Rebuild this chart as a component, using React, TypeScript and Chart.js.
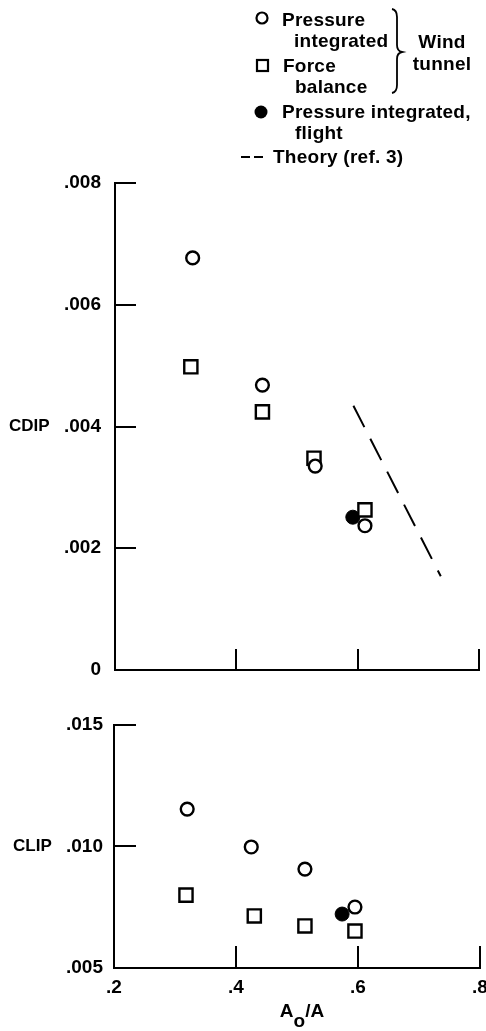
import React, { useEffect, useRef } from "react";
import { Chart, registerables } from "chart.js";

Chart.register(...registerables);

// ---------- data ----------
const xTickValues = [0.2, 0.4, 0.6, 0.8];
const xTickMarkValues = [0.4, 0.6, 0.8];

const cdipTickValues = [0, 0.002, 0.004, 0.006, 0.008];
const cdipTickMarkValues = [0.002, 0.004, 0.006, 0.008];
const clipTickValues = [0.005, 0.01, 0.015];
const clipTickMarkValues = [0.01, 0.015];

// CDIP (upper panel)
const cdipPressureX = [0.328, 0.443, 0.53, 0.612];
const cdipPressureY = [0.00677, 0.00468, 0.00335, 0.00237];
const cdipForceX = [0.325, 0.443, 0.528, 0.612];
const cdipForceY = [0.00498, 0.00424, 0.00348, 0.00263];
const cdipFlightX = [0.592];
const cdipFlightY = [0.00251];
const theoryX = [0.593, 0.737];
const theoryY = [0.00434, 0.00154];

// CLIP (lower panel)
const clipPressureX = [0.32, 0.425, 0.513, 0.595];
const clipPressureY = [0.01154, 0.00998, 0.00907, 0.00751];
const clipForceX = [0.318, 0.43, 0.513, 0.595];
const clipForceY = [0.008, 0.00714, 0.00673, 0.00652];
const clipFlightX = [0.574];
const clipFlightY = [0.00722];

// ---------- helpers ----------
const FONT_FAMILY = "'Liberation Sans', Arial, Helvetica, sans-serif";
const pts = (xs: number[], ys: number[]) => xs.map((x, i) => ({ x, y: ys[i] }));
const fmt3 = (v: number) => (v === 0 ? "0" : v.toFixed(3).replace(/^0/, ""));
const fmt1 = (v: number) => v.toFixed(1).replace(/^0/, "");

function markerSets(pX, pY, fX, fY, flX, flY) {
  return [
    {
      label: "Pressure integrated (wind tunnel)",
      data: pts(pX, pY),
      showLine: false,
      pointStyle: "circle",
      pointRadius: 6.4,
      pointBorderWidth: 2.4,
      pointBorderColor: "#000",
      pointBackgroundColor: "#fff",
    },
    {
      label: "Force balance (wind tunnel)",
      data: pts(fX, fY),
      showLine: false,
      pointStyle: "rect",
      pointRadius: 9.3,
      pointBorderWidth: 2.4,
      pointBorderColor: "#000",
      pointBackgroundColor: "#fff",
    },
    {
      label: "Pressure integrated, flight",
      data: pts(flX, flY),
      showLine: false,
      pointStyle: "circle",
      pointRadius: 7,
      pointBorderWidth: 1,
      pointBorderColor: "#000",
      pointBackgroundColor: "#000",
    },
  ];
}

const tickMarks = (xMarks: number[], yMarks: number[], len: number) => ({
  id: "tickMarks",
  afterDraw(chart: any) {
    const { ctx, chartArea, scales } = chart;
    ctx.save();
    ctx.strokeStyle = "#000";
    ctx.lineWidth = 2;
    ctx.beginPath();
    for (const v of yMarks) {
      const y = Math.round(scales.y.getPixelForValue(v));
      ctx.moveTo(chartArea.left, y);
      ctx.lineTo(chartArea.left + len, y);
    }
    for (const v of xMarks) {
      const x = Math.round(scales.x.getPixelForValue(v));
      ctx.moveTo(x, chartArea.bottom);
      ctx.lineTo(x, chartArea.bottom - len);
    }
    ctx.stroke();
    ctx.restore();
  },
});

const sideTitle = (text: string, value: number, x: number) => ({
  id: "sideTitle",
  afterDraw(chart: any) {
    const { ctx, scales } = chart;
    ctx.save();
    ctx.fillStyle = "#000";
    ctx.font = `bold 17px ${FONT_FAMILY}`;
    ctx.textAlign = "left";
    ctx.textBaseline = "middle";
    ctx.fillText(text, x, scales.y.getPixelForValue(value));
    ctx.restore();
  },
});

const legendPlugin = {
  id: "customLegend",
  afterDraw(chart: any) {
    const ctx = chart.ctx;
    ctx.save();
    ctx.fillStyle = "#000";
    ctx.strokeStyle = "#000";
    ctx.font = `bold 19px ${FONT_FAMILY}`;
    try {
      (ctx as any).letterSpacing = "0.25px";
    } catch (e) {}
    ctx.textAlign = "left";
    ctx.textBaseline = "alphabetic";
    // open circle
    ctx.lineWidth = 2.2;
    ctx.beginPath();
    ctx.arc(262, 18, 5.5, 0, Math.PI * 2);
    ctx.stroke();
    ctx.fillText("Pressure", 282, 26);
    ctx.fillText("integrated", 294, 47);
    // square
    ctx.strokeRect(257, 60, 11, 11);
    ctx.fillText("Force", 283, 72);
    ctx.fillText("balance", 295, 93);
    // filled circle
    ctx.beginPath();
    ctx.arc(261, 112, 6.5, 0, Math.PI * 2);
    ctx.fill();
    ctx.fillText("Pressure integrated,", 282, 118);
    ctx.fillText("flight", 295, 139);
    // dashed theory
    ctx.lineWidth = 2;
    ctx.setLineDash([9, 4]);
    ctx.beginPath();
    ctx.moveTo(241, 157);
    ctx.lineTo(267, 157);
    ctx.stroke();
    ctx.setLineDash([]);
    ctx.fillText("Theory (ref. 3)", 273, 163);
    // brace
    ctx.lineWidth = 1.8;
    ctx.beginPath();
    ctx.moveTo(392, 9);
    ctx.quadraticCurveTo(397, 10, 397, 17);
    ctx.lineTo(397, 45);
    ctx.quadraticCurveTo(397, 51, 402, 52);
    ctx.quadraticCurveTo(397, 53, 397, 59);
    ctx.lineTo(397, 85);
    ctx.quadraticCurveTo(397, 92, 392, 93);
    ctx.stroke();
    ctx.textAlign = "center";
    ctx.fillText("Wind", 442, 48);
    ctx.fillText("tunnel", 442, 70);
    ctx.restore();
  },
};

const xAxisTitle = {
  id: "xAxisTitle",
  afterDraw(chart: any) {
    const { ctx, chartArea } = chart;
    ctx.save();
    ctx.fillStyle = "#000";
    ctx.font = `bold 19px ${FONT_FAMILY}`;
    ctx.textBaseline = "alphabetic";
    ctx.textAlign = "left";
    const a = ctx.measureText("A").width;
    const o = ctx.measureText("o").width;
    const rest = ctx.measureText("/A").width;
    const total = a + o + rest;
    const cx = (chartArea.left + chartArea.right) / 2 + 5;
    let x = cx - total / 2;
    const base = chartArea.bottom + 49;
    ctx.fillText("A", x, base);
    x += a;
    ctx.fillText("o", x, base + 10);
    x += o;
    ctx.fillText("/A", x, base);
    ctx.restore();
  },
};

const tickFont = { family: FONT_FAMILY, size: 19, weight: "bold" as const };
const border = { display: true, color: "#000", width: 2 };
const grid = { display: false, drawTicks: false };

function topConfig(): any {
  return {
    type: "scatter",
    data: {
      datasets: [
        ...markerSets(cdipPressureX, cdipPressureY, cdipForceX, cdipForceY, cdipFlightX, cdipFlightY),
        {
          label: "Theory (ref. 3)",
          data: pts(theoryX, theoryY),
          showLine: true,
          borderColor: "#000",
          borderWidth: 2,
          borderDash: [24, 13],
          pointRadius: 0,
        },
      ],
    },
    options: {
      animation: false,
      responsive: false,
      events: [],
      layout: { autoPadding: false, padding: { top: 183, right: 7, bottom: 0, left: 0 } },
      plugins: { legend: { display: false }, tooltip: { enabled: false } },
      scales: {
        x: {
          type: "linear",
          min: 0.2,
          max: 0.8,
          grid,
          border,
          ticks: { display: false },
          afterFit: (s: any) => {
            s.height = 30;
            s.paddingLeft = 0;
            s.paddingRight = 0;
          },
        },
        y: {
          type: "linear",
          min: 0,
          max: 0.008,
          grid,
          border,
          afterBuildTicks: (s: any) => {
            s.ticks = cdipTickValues.map((v) => ({ value: v }));
          },
          ticks: { color: "#000", font: tickFont, padding: 14, callback: (v: any) => fmt3(Number(v)) },
          afterFit: (s: any) => {
            s.width = 115;
            s.paddingTop = 0;
            s.paddingBottom = 0;
          },
        },
      },
    },
    plugins: [tickMarks(xTickMarkValues, cdipTickMarkValues, 21), sideTitle("CDIP", 0.004, 9), legendPlugin],
  };
}

function bottomConfig(): any {
  return {
    type: "scatter",
    data: {
      datasets: markerSets(clipPressureX, clipPressureY, clipForceX, clipForceY, clipFlightX, clipFlightY),
    },
    options: {
      animation: false,
      responsive: false,
      events: [],
      layout: { autoPadding: false, padding: { top: 25, right: 6, bottom: 0, left: 0 } },
      plugins: { legend: { display: false }, tooltip: { enabled: false } },
      scales: {
        x: {
          type: "linear",
          min: 0.2,
          max: 0.8,
          grid,
          border,
          afterBuildTicks: (s: any) => {
            s.ticks = xTickValues.map((v) => ({ value: v }));
          },
          ticks: { color: "#000", font: tickFont, padding: 8, maxRotation: 0, autoSkip: false, callback: (v: any) => fmt1(Number(v)) },
          afterFit: (s: any) => {
            s.height = 63;
            s.paddingLeft = 0;
            s.paddingRight = 0;
          },
        },
        y: {
          type: "linear",
          min: 0.005,
          max: 0.015,
          grid,
          border,
          afterBuildTicks: (s: any) => {
            s.ticks = clipTickValues.map((v) => ({ value: v }));
          },
          ticks: { color: "#000", font: tickFont, padding: 11, callback: (v: any) => fmt3(Number(v)) },
          afterFit: (s: any) => {
            s.width = 114;
            s.paddingTop = 0;
            s.paddingBottom = 0;
          },
        },
      },
    },
    plugins: [tickMarks(xTickMarkValues, clipTickMarkValues, 22), sideTitle("CLIP", 0.01, 13), xAxisTitle],
  };
}

function ChartCanvas({ make, top, height }: { make: () => any; top: number; height: number }) {
  const ref = useRef<HTMLCanvasElement | null>(null);
  useEffect(() => {
    if (!ref.current) return;
    const chart = new Chart(ref.current, make());
    return () => chart.destroy();
  }, [make]);
  return (
    <canvas
      ref={ref}
      width={486}
      height={height}
      style={{ position: "absolute", left: 0, top, width: 486, height, display: "block" }}
    />
  );
}

export default function App() {
  return (
    <div style={{ position: "absolute", left: 0, top: 0, width: 486, height: 1031, background: "#fff" }}>
      <ChartCanvas make={topConfig} top={0} height={700} />
      <ChartCanvas make={bottomConfig} top={700} height={331} />
    </div>
  );
}
